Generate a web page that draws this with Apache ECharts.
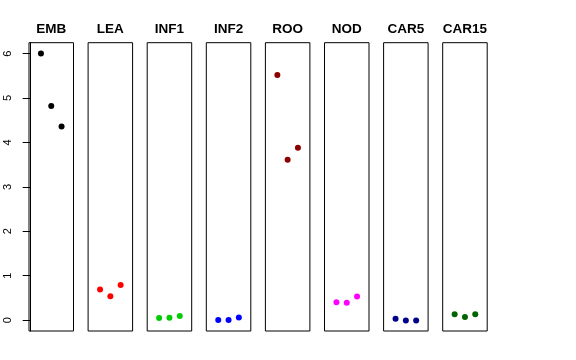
<!DOCTYPE html>
<html><head><meta charset="utf-8">
<script src="https://cdn.jsdelivr.net/npm/echarts@6/dist/echarts.min.js"></script>
<style>html,body{margin:0;padding:0;background:#fff}#c{width:576px;height:360px}</style>
</head><body><div id="c"></div>
<script>
const categories = ["EMB","LEA","INF1","INF2","ROO","NOD","CAR5","CAR15"];
const colors = ["#000000","#FF0000","#00CD00","#0000FF","#8B0000","#FF00FF","#00008B","#006400"];
const xPositions = [1, 2, 3];
const EMB   = [6.00, 4.82, 4.36];
const LEA   = [0.69, 0.54, 0.79];
const INF1  = [0.05, 0.055, 0.09];
const INF2  = [0.00, 0.00, 0.06];
const ROO   = [5.52, 3.61, 3.88];
const NOD   = [0.40, 0.39, 0.53];
const CAR5  = [0.03, -0.01, -0.01];
const CAR15 = [0.13, 0.07, 0.13];
const seriesValues = [EMB, LEA, INF1, INF2, ROO, NOD, CAR5, CAR15];
const yTicks = [0, 1, 2, 3, 4, 5, 6];

(function () {
const font = "'Liberation Sans', Arial, Helvetica, sans-serif";
const grids = [], xAxes = [], yAxes = [], series = [], titles = [];
const left0 = 29, step = 59.1, w = 44.5, gTop = 42.7, h = 288.3;
categories.forEach((cat, i) => {
  const l = left0 + i * step;
  grids.push({left: l, top: gTop, width: w, height: h, show: true, borderColor: '#000', borderWidth: 1, backgroundColor: 'transparent'});
  xAxes.push({type: 'value', gridIndex: i, min: -0.16, max: 4.16, show: false});
  yAxes.push({
    type: 'value', gridIndex: i, min: -0.245, max: 6.245,
    show: i === 0,
    splitLine: {show: false},
    axisLine: {show: i === 0, lineStyle: {color: '#000', width: 1}},
    axisTick: {show: i === 0, length: 8, customValues: yTicks, lineStyle: {color: '#000'}},
    axisLabel: {show: i === 0, customValues: yTicks, rotate: 90, margin: 16, color: '#000', fontSize: 11, fontFamily: font}
  });
  titles.push({text: cat, left: l + w / 2, top: 22, padding: 0, textAlign: 'center',
    textStyle: {fontFamily: font, fontWeight: 'bold', fontSize: 13.5, color: '#000'}});
  series.push({type: 'scatter', xAxisIndex: i, yAxisIndex: i, symbolSize: 6,
    itemStyle: {color: colors[i], opacity: 1}, silent: true,
    data: seriesValues[i].map((v, j) => [xPositions[j], v])});
});
const chart = echarts.init(document.getElementById('c'), null, {renderer: 'canvas'});
chart.setOption({animation: false, title: titles, grid: grids, xAxis: xAxes, yAxis: yAxes, series: series});
})();
</script></body></html>
